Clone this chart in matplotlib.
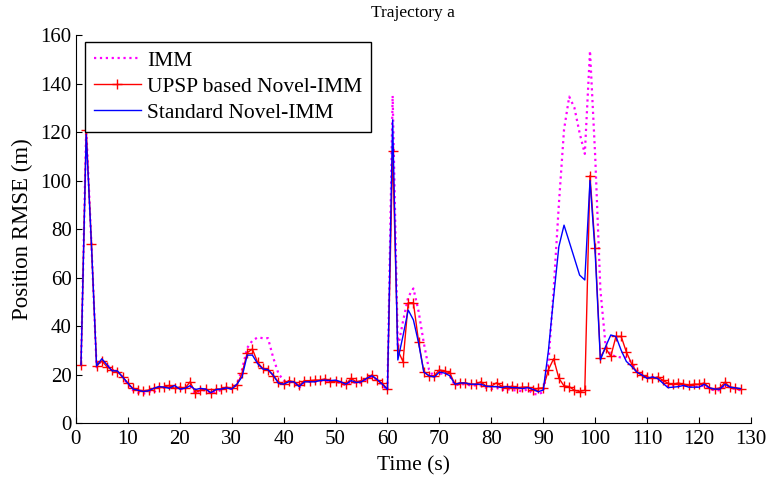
import matplotlib
matplotlib.use("Agg")
import matplotlib.pyplot as plt
import numpy as np

plt.rcParams['font.family'] = ['Liberation Serif', 'DejaVu Serif']
plt.rcParams['mathtext.fontset'] = 'stix'

time_s = list(range(1, 129))

imm = [24, 122, 74, 23, 26, 24, 22, 21, 19, 16,
       13.5, 12.5, 12, 13, 12.5, 15, 14.5, 15, 14.5, 14,
       14, 15.5, 12, 13.5, 13.5, 12, 13, 13.5, 14.5, 14,
       16, 22, 31, 34, 35.3, 35, 35, 27, 20.5, 17.5,
       17, 16.5, 14.5, 16.5, 17, 17, 17.5, 17, 17, 17,
       16.5, 15.5, 17, 16.5, 16.5, 18, 19, 17.5, 15.5, 13.5,
       135, 31, 42, 52, 55.5, 46, 33, 22, 19, 20,
       21, 19.5, 15.5, 16, 16, 15.5, 15.5, 15.5, 14.5, 14,
       14.5, 13.5, 14, 13.5, 13.5, 13, 14, 12, 11.8, 12.8,
       25, 55, 90, 121, 134.6, 130, 119.6, 111, 153.5, 110,
       55, 32, 28, 27.5, 27, 27, 25, 22, 20, 19,
       19, 18.5, 17, 15, 15.5, 15.5, 15.5, 15, 15, 15,
       15.5, 14, 13.5, 13.5, 15.5, 14.5, 14, 13.5]

upsp = [24, 121, 74, 23.5, 25.6, 23.2, 21.8, 21.2, 19.1, 16.4,
        14.3, 13.6, 13.3, 13.6, 14.3, 14.8, 14.8, 15.5, 14.3, 14.8,
        14.3, 17, 12.5, 13.6, 14, 12.5, 14, 14, 14.8, 14.3,
        15.5, 20.5, 29, 30.5, 25, 22.5, 22, 19.5, 17, 16,
        17.5, 17, 15.5, 17.5, 17.5, 17.7, 17.7, 18.2, 17, 17.5,
        16.8, 16, 18.4, 17, 17.5, 18.4, 19.8, 17.7, 16.4, 14,
        112, 30, 25.3, 49.6, 49.6, 33.5, 21.2, 19.5, 19.5, 21.9,
        21.5, 20.7, 16, 16.6, 16.6, 16, 16, 17, 15.2, 15.2,
        16.6, 15.2, 14.5, 15.2, 14.5, 14.8, 14.8, 13.6, 14.3, 14.5,
        22, 26.5, 18.5, 15.3, 15, 13.5, 13, 13.5, 102, 72,
        27, 31, 27.5, 35.7, 35.7, 29.3, 24.5, 21, 19.8, 19,
        18.4, 19, 17.7, 16.4, 16, 16.5, 16, 15.7, 16, 16,
        16.5, 14.5, 14, 14.5, 16.8, 14.8, 14.5, 14]

standard = [24, 119, 74, 23.5, 26.5, 24, 21.5, 21.5, 19, 16.5,
            14, 13.5, 13, 13.3, 14.3, 15, 14.8, 14.3, 15.5, 14,
            14.3, 15.4, 13.8, 14.3, 14, 12.5, 13.8, 14, 14.5, 14,
            16, 19, 28, 28, 24.5, 22.3, 22, 19.8, 16.4, 16,
            17, 17, 15, 17, 17, 17, 17.5, 17.7, 17.5, 17.7,
            17, 16, 17.5, 16.7, 17, 18.4, 19.5, 18, 16, 13.8,
            125, 26, 36, 46.6, 42.5, 33, 21, 19.5, 19, 21,
            20.6, 19.5, 16, 16.5, 16.5, 16, 16, 16, 15.2, 15,
            15, 14.6, 15, 14.6, 14.6, 14.2, 14.6, 13.9, 12.9, 13.6,
            30, 52, 72.7, 81.6, 74.8, 67.9, 61, 59, 100, 70,
            26, 31.5, 36.3, 35.7, 30, 25.4, 23.4, 21, 19.8, 18.4,
            19, 18.4, 16.5, 14.6, 14.8, 15, 15.5, 14.8, 14.8, 14.8,
            16, 14.5, 14, 14, 16, 14.8, 14.5, 14.2]

xticks = list(range(0, 131, 10))
yticks = list(range(0, 161, 20))

fig = plt.figure(figsize=(7.69, 4.78), dpi=100)
ax = fig.add_axes([0.0986, 0.115, 0.878, 0.8117])

ax.plot(time_s, imm, color=(1, 0, 1), linestyle=':', linewidth=1.6, label='IMM')
ax.plot(time_s, upsp, color='red', linestyle='-', linewidth=1.0, marker='+',
        markersize=7.5, markeredgewidth=1.0, label='UPSP based Novel-IMM')
ax.plot(time_s, standard, color='blue', linestyle='-', linewidth=1.0,
        label='Standard Novel-IMM')

ax.set_xlim(0, 130)
ax.set_ylim(0, 160)
ax.set_xticks(xticks)
ax.set_yticks(yticks)
ax.tick_params(direction='in', length=4, width=0.8, labelsize=15)
ax.tick_params(axis='x', pad=5)
ax.tick_params(axis='y', pad=3)
for s in ['top', 'right']:
    ax.spines[s].set_visible(False)
for s in ['left', 'bottom']:
    ax.spines[s].set_linewidth(0.8)

ax.set_title('Trajectory a', fontsize=12.5, pad=13)
ax.set_xlabel('Time (s)', fontsize=15.5, labelpad=5)
ax.set_ylabel('Position RMSE (m)', fontsize=16.5, labelpad=5)

leg = ax.legend(loc='upper left', bbox_to_anchor=(0.0136, 0.982), borderaxespad=0,
                fontsize=15.5, frameon=True, fancybox=False, edgecolor='black',
                framealpha=1, handlelength=2.2, handletextpad=0.3,
                labelspacing=0.28, borderpad=0.4, markerscale=1.0)
leg.get_frame().set_linewidth(1.0)

fig.savefig('out.png', dpi=100)
